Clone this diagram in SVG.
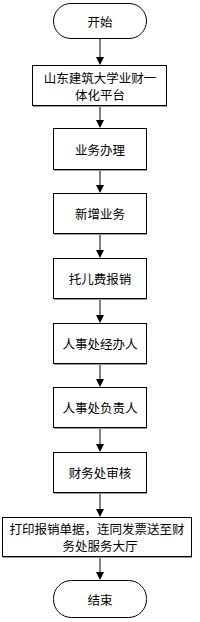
<svg xmlns="http://www.w3.org/2000/svg" width="200" height="622" viewBox="0 0 200 622">
<defs>
<style>
.box{fill:#fff;stroke:#000;stroke-width:1}
.sh{fill:none;stroke:#999;stroke-width:1}
.t{font-family:"Noto Sans CJK SC","Liberation Sans",sans-serif;font-size:12.5px;fill:#000;text-anchor:middle;dominant-baseline:central}
.ln{stroke:#808080;stroke-width:2;fill:none}
.ah{fill:#000}
</style>
</defs>
<rect width="200" height="622" fill="#fff"/>
<g id="connectors">
<line class="ln" x1="100" y1="38" x2="100" y2="57"/><polygon class="ah" points="96,57 104,57 100,65"/>
<line class="ln" x1="100" y1="106" x2="100" y2="120"/><polygon class="ah" points="96,120 104,120 100,128"/>
<line class="ln" x1="100" y1="170" x2="100" y2="185"/><polygon class="ah" points="96,185 104,185 100,193"/>
<line class="ln" x1="100" y1="234" x2="100" y2="250"/><polygon class="ah" points="96,250 104,250 100,258"/>
<line class="ln" x1="100" y1="299" x2="100" y2="315"/><polygon class="ah" points="96,315 104,315 100,323"/>
<line class="ln" x1="100" y1="364" x2="100" y2="379"/><polygon class="ah" points="96,379 104,379 100,387"/>
<line class="ln" x1="100" y1="428" x2="100" y2="444"/><polygon class="ah" points="96,444 104,444 100,452"/>
<line class="ln" x1="100" y1="493" x2="100" y2="509"/><polygon class="ah" points="96,509 104,509 100,517"/>
<line class="ln" x1="100" y1="557" x2="100" y2="572"/><polygon class="ah" points="96,572 104,572 100,580"/>
</g>
<g id="start"><rect class="box" x="53.5" y="3.5" width="93" height="35" rx="17.5"/><text class="t" x="100" y="21">开始</text></g>
<g id="n1"><rect class="box" x="32.5" y="65.5" width="134" height="40"/><line class="sh" x1="33" y1="106.5" x2="167" y2="106.5"/><text class="t" x="100" y="77.5">山东建筑大学业财一</text><text class="t" x="100" y="94">体化平台</text></g>
<g id="n2"><rect class="box" x="53.5" y="128.5" width="93" height="41"/><line class="sh" x1="54" y1="170.5" x2="147" y2="170.5"/><text class="t" x="100" y="149">业务办理</text></g>
<g id="n3"><rect class="box" x="53.5" y="193.5" width="93" height="40"/><line class="sh" x1="54" y1="234.5" x2="147" y2="234.5"/><text class="t" x="100" y="213.5">新增业务</text></g>
<g id="n4"><rect class="box" x="53.5" y="258.5" width="93" height="40"/><line class="sh" x1="54" y1="299.5" x2="147" y2="299.5"/><text class="t" x="100" y="278.5">托儿费报销</text></g>
<g id="n5"><rect class="box" x="53.5" y="323.5" width="93" height="40"/><line class="sh" x1="54" y1="364.5" x2="147" y2="364.5"/><text class="t" x="100" y="343.5">人事处经办人</text></g>
<g id="n6"><rect class="box" x="53.5" y="387.5" width="93" height="40"/><line class="sh" x1="54" y1="428.5" x2="147" y2="428.5"/><text class="t" x="100" y="407.5">人事处负责人</text></g>
<g id="n7"><rect class="box" x="53.5" y="452.5" width="93" height="40"/><line class="sh" x1="54" y1="493.5" x2="147" y2="493.5"/><text class="t" x="100" y="472.5">财务处审核</text></g>
<g id="n8"><rect class="box" x="2.5" y="517.5" width="189" height="39"/><line class="sh" x1="3" y1="557.5" x2="192" y2="557.5"/><text class="t" x="97" y="528.5">打印报销单据，连同发票送至财</text><text class="t" x="100" y="545">务处服务大厅</text></g>
<g id="end"><rect class="box" x="53.5" y="580.5" width="93" height="37" rx="18"/><text class="t" x="100" y="599">结束</text></g>
</svg>
